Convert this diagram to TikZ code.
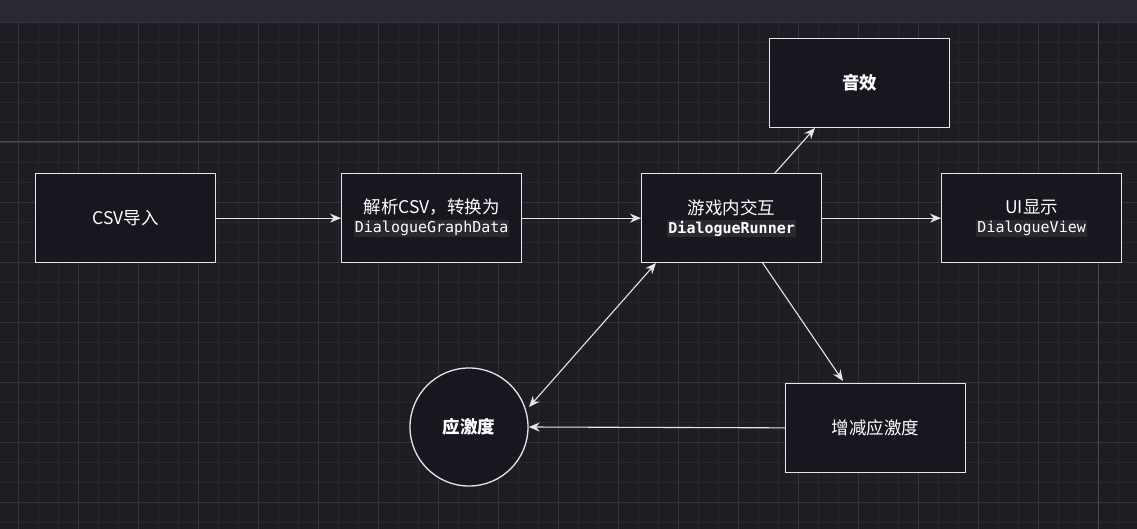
\documentclass[tikz,border=0pt]{standalone}
\usepackage{fontspec}
\setmainfont{Noto Sans CJK SC}
\setmonofont{DejaVu Sans Mono}
\usetikzlibrary{arrows.meta}
\definecolor{bg}{HTML}{1E1D24}
\definecolor{hdr}{HTML}{2B2733}
\definecolor{boxf}{HTML}{18171F}
\definecolor{ln}{HTML}{E6E6E6}
\definecolor{gmin}{HTML}{28272E}
\definecolor{gmed}{HTML}{35343B}
\definecolor{gmaj}{HTML}{4A4950}
\definecolor{hl}{HTML}{2A2A2E}
\setlength{\fboxsep}{1pt}
\newcommand{\mono}[1]{\colorbox{hl}{\ttfamily\fontsize{15}{17}\selectfont #1}}
\begin{document}
\begin{tikzpicture}[x=1pt,y=-1pt,
  box/.style={draw=ln,line width=1.3pt,fill=boxf,minimum width=180pt,minimum height=89pt,text=white,font=\fontsize{17.5}{21}\selectfont,align=center,inner sep=0pt,anchor=north west},
  arr/.style={draw=ln,line width=1.1pt,-{Stealth[length=11pt,width=9pt]}}]
\useasboundingbox (0,0) rectangle (1137,529);
\fill[bg] (0,0) rectangle (1137,529);
\foreach \x in {-2,18,...,1137} \draw[gmin,line width=0.8pt] (\x,22) -- (\x,529);
\foreach \y in {22,42,...,529} \draw[gmin,line width=0.8pt] (0,\y) -- (1137,\y);
\foreach \x in {18,78,...,1137} \draw[gmed,line width=0.9pt] (\x,22) -- (\x,529);
\foreach \y in {22,82,...,529} \draw[gmed,line width=0.9pt] (0,\y) -- (1137,\y);
\draw[gmaj,line width=1pt] (1098,22) -- (1098,529);
\draw[gmaj,line width=1pt] (0,142) -- (1137,142);
\fill[hdr] (0,0) rectangle (1137,22);
\node[box] (csv) at (35,173) {CSV导入};
\node[box] (parse) at (341,173) {解析CSV，转换为\\[-2pt]\mono{DialogueGraphData}};
\node[box] (game) at (641,173) {游戏内交互\\[-2pt]\mono{\bfseries DialogueRunner}};
\node[box] (sfx) at (769,38) {\bfseries 音效};
\node[box] (ui) at (941,173) {UI显示\\[-2pt]\mono{DialogueView}};
\node[box] (inc) at (785,383) {增减应激度};
\node[draw=ln,line width=1.3pt,fill=boxf,circle,minimum size=118pt,text=white,font=\fontsize{17.5}{21}\selectfont\bfseries] (st) at (469,427) {应激度};
\draw[arr] (csv) -- (parse);
\draw[arr] (parse) -- (game);
\draw[arr] (game) -- (ui);
\draw[arr] (775,173) -- (815,128);
\draw[arr] (762,262) -- (843,381);
\draw[arr] (inc) -- (st.east);
\draw[draw=ln,line width=1.1pt,{Stealth[length=11pt,width=9pt]}-{Stealth[length=11pt,width=9pt]}] (529,407) -- (656,263);
\end{tikzpicture}
\end{document}
